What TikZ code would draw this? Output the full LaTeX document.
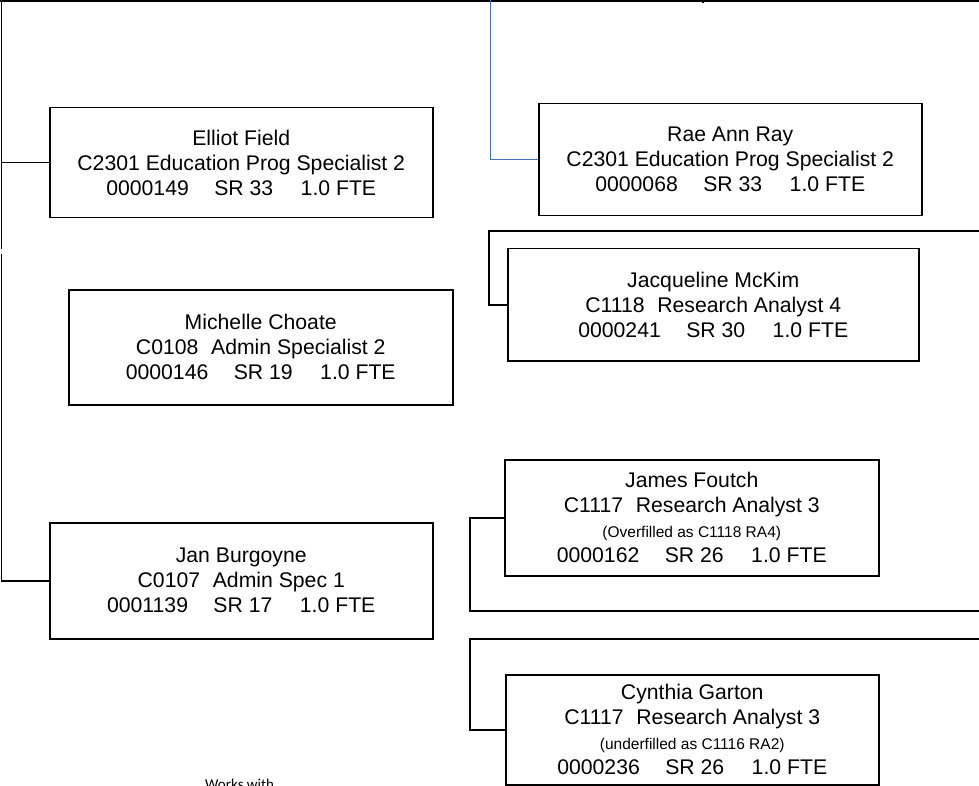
\documentclass[tikz,border=0pt]{standalone}
\usepackage{fontspec}
\setmainfont{Liberation Sans}
\newfontfamily\smallfam{Carlito}
\begin{document}
\begin{tikzpicture}[x=1pt,y=-1pt,
  posbox/.style={draw=black,line width=1.5pt,rectangle,anchor=north west,align=center,inner sep=0pt,
    font=\fontsize{21.2}{25}\selectfont},
  conn/.style={draw=black,line width=1.5pt},
  blueconn/.style={draw={rgb,255:red,68;green,114;blue,196}},
]
\useasboundingbox (0,0) rectangle (979,786);
\clip (0,0) rectangle (979,786);
\newcommand{\gapA}{\hspace{1.2em}}
\newcommand{\gapB}{\hspace{1.3em}}
\newcommand{\smallline}[1]{{\fontsize{15.5}{25}\selectfont #1}}

\node[posbox,minimum width=383pt,minimum height=110pt] (elliot) at (49,107)
  {Elliot Field\\C2301 Education Prog Specialist 2\\0000149\gapA SR 33\gapB 1.0 FTE};
\node[posbox,minimum width=383pt,minimum height=112pt] (rae) at (538,103)
  {Rae Ann Ray\\C2301 Education Prog Specialist 2\\0000068\gapA SR 33\gapB 1.0 FTE};
\node[posbox,minimum width=411pt,minimum height=112pt] (jac) at (507,248)
  {Jacqueline McKim\\C1118\hspace{0.6em}Research Analyst 4\\0000241\gapA SR 30\gapB 1.0 FTE};
\node[posbox,minimum width=384pt,minimum height=115pt] (mic) at (68,289)
  {Michelle Choate\\C0108\hspace{0.6em}Admin Specialist 2\\0000146\gapA SR 19\gapB 1.0 FTE};
\node[posbox,minimum width=374pt,minimum height=116pt] (james) at (504,459)
  {James Foutch\\C1117\hspace{0.6em}Research Analyst 3\\\smallline{(Overfilled as C1118 RA4)}\\0000162\gapA SR 26\gapB 1.0 FTE};
\node[posbox,minimum width=383pt,minimum height=116pt] (jan) at (49,522)
  {Jan Burgoyne\\C0107\hspace{0.6em}Admin Spec 1\\0001139\gapA SR 17\gapB 1.0 FTE};
\node[posbox,minimum width=373pt,minimum height=110pt] (cyn) at (505,674)
  {Cynthia Garton\\C1117\hspace{0.6em}Research Analyst 3\\\smallline{(underfilled as C1116 RA2)}\\0000236\gapA SR 26\gapB 1.0 FTE};

\node[anchor=north west,inner sep=0pt,font=\smallfam\fontsize{15}{17}\selectfont] (works) at (205,779) {Works with};

% top line and left trunk
\coordinate (tl) at (0,1);
\coordinate (tr) at (979,1);
\draw[conn] (tl) -- (tr);
\coordinate (tick) at (703,0);
\draw[line width=2pt] (tick) -- ++(0,3);
\coordinate (lt0) at (1.5,0);
\coordinate (lt1) at (1.5,249);
\coordinate (lt2) at (1.5,254);
\draw[conn] (lt0) -- (lt1);
\draw[conn] (lt1 |- elliot.west) -- (elliot.west);
\draw[conn] (lt2) |- (jan.west);

% blue connector to Rae Ann
\coordinate (b0) at (490,0);
\draw[blueconn,line width=0.8pt] (b0) -- (b0 |- rae.west);
\draw[blueconn,line width=1.5pt] (b0 |- rae.west) -- (rae.west);

% right-side connectors
\coordinate (j0) at (979,231);
\coordinate (j1) at (489,231);
\draw[conn] (j0) -- (j1) |- (jac.west);
\coordinate (f0) at (979,611);
\coordinate (f1) at (470,611);
\draw[conn] (f0) -- (f1) |- (james.west);
\coordinate (g0) at (979,639);
\coordinate (g1) at (470,639);
\draw[conn] (g0) -- (g1) |- (cyn.west);
\end{tikzpicture}
\end{document}
